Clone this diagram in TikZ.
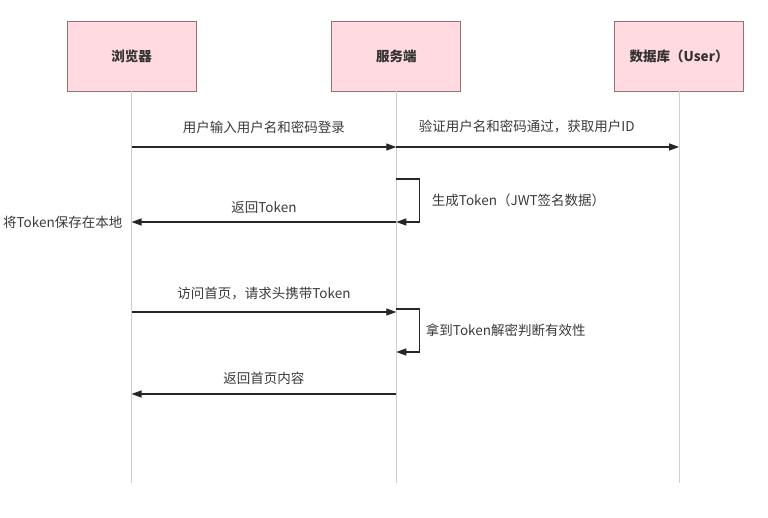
\documentclass[tikz,border=0pt]{standalone}
\usepackage{fontspec}
\setmainfont{Noto Sans CJK SC}
\usetikzlibrary{positioning,arrows.meta}

\definecolor{actorfill}{HTML}{FFDAE0}
\definecolor{actordraw}{HTML}{8F7378}
\definecolor{lifegray}{HTML}{CFCFCF}
\definecolor{msgline}{HTML}{262626}
\definecolor{msgtext}{HTML}{3A3A3A}

\tikzset{
  actor/.style={draw=actordraw, fill=actorfill, line width=0.8pt, minimum width=129pt, minimum height=70pt, text=black!80, font=\bfseries\fontsize{13.5}{16}\selectfont},
  lifeline/.style={draw=lifegray, line width=1pt},
  msg/.style={draw=msgline, line width=1.2pt, -{Triangle[length=10pt,width=7pt]}},
  txt/.style={inner sep=0pt, text=msgtext, font=\fontsize{13.5}{16}\selectfont},
}

\begin{document}
\begin{tikzpicture}[x=1pt,y=-1pt]
  \useasboundingbox (0,0) rectangle (768,518);

  % Define nodes
  \node[actor]                          (browser) at (131.5,56) {浏览器};
  \node[actor, right=135pt of browser]  (server)  {服务端};
  \node[actor, right=153pt of server]   (db)      {数据库（User）};

  % Lifelines
  \coordinate (browser end) at (browser |- 0,483);
  \coordinate (server end)  at (server |- 0,483);
  \coordinate (db end)      at (db |- 0,483);
  \draw[lifeline] (browser) -- (browser end);
  \draw[lifeline] (server) -- (server end);
  \draw[lifeline] (db) -- (db end);

  % Points on the lifelines
  \coordinate (login b)  at (browser |- 0,147);
  \coordinate (login s)  at (server |- 0,147);
  \coordinate (verify d) at (db |- 0,147);
  \coordinate (gen s)    at (server |- 0,179);
  \coordinate (ret s)    at (server |- 0,222);
  \coordinate (ret b)    at (browser |- 0,222);
  \coordinate (visit b)  at (browser |- 0,312);
  \coordinate (visit s)  at (server |- 0,312);
  \coordinate (check s)  at (server |- 0,309);
  \coordinate (checked s) at (server |- 0,352);
  \coordinate (page s)   at (server |- 0,394);
  \coordinate (page b)   at (browser |- 0,394);

  % Connect the nodes
  \draw[msg] (login b) -- node[txt, above=13pt] {用户输入用户名和密码登录} (login s);
  \draw[msg] (login s) -- node[txt, above=13pt, xshift=-11pt] {验证用户名和密码通过，获取用户ID} (verify d);
  \draw[msg] (gen s) -- ++(23,0) |- node[txt, pos=0.25, right=12pt] {生成Token（JWT签名数据）} (ret s);
  \draw[msg] (ret s) -- node[txt, above=8pt] {返回Token} (ret b);
  \node[txt, left=9pt of ret b] (save) {将Token保存在本地};
  \draw[msg] (visit b) -- node[txt, above=11pt] {访问首页，请求头携带Token} (visit s);
  \draw[msg] (check s) -- ++(23,0) |- node[txt, pos=0.25, right=6pt] {拿到Token解密判断有效性} (checked s);
  \draw[msg] (page s) -- node[txt, above=9pt] {返回首页内容} (page b);

\end{tikzpicture}
\end{document}
